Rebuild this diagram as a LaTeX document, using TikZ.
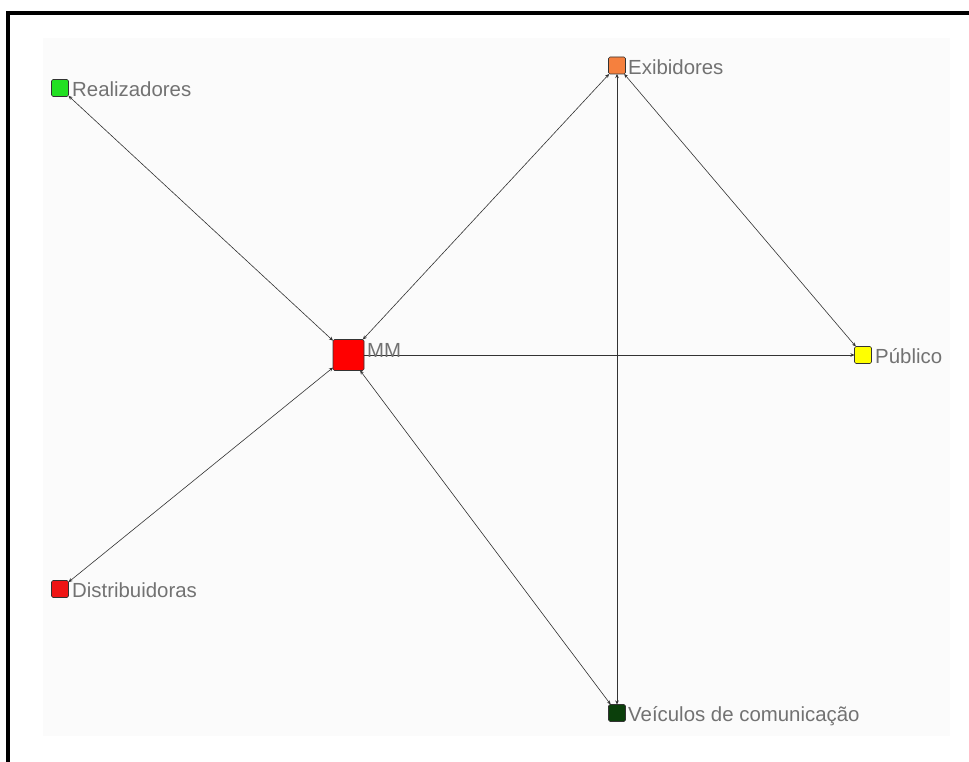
\documentclass[tikz,border=0pt]{standalone}
\usepackage{fontspec}
\setmainfont{Liberation Sans}
\usetikzlibrary{arrows.meta}
\definecolor{txtgray}{HTML}{727272}
\definecolor{panel}{HTML}{FBFBFB}
\definecolor{cGreen}{HTML}{22E022}
\definecolor{cOrange}{HTML}{F5803E}
\definecolor{cRed}{HTML}{FF0000}
\definecolor{cRedB}{HTML}{EE1515}
\definecolor{cYellow}{HTML}{FFFF00}
\definecolor{cDark}{HTML}{0B3F0B}
\tikzset{
  vbox/.style={draw=black!80, line width=0.6pt, rounded corners=1.5pt, minimum size=17pt, inner sep=0pt, outer sep=0pt},
  bigbox/.style={vbox, minimum size=31pt},
  vlabel/.style={anchor=base west, inner sep=0pt, text=txtgray, font=\fontsize{20.4}{24}\selectfont},
  edge/.style={draw=black!80, line width=0.6pt},
  both/.style={edge, {Stealth[length=4pt,width=3.5pt]}-{Stealth[length=4pt,width=3.5pt]}},
  one/.style={edge, -{Stealth[length=4pt,width=3.5pt]}}
}
\begin{document}
\begin{tikzpicture}[x=1pt,y=-1pt]
\useasboundingbox (0,0) rectangle (969,762);
\fill[panel] (43,38) rectangle (950,736);
\draw[line width=4pt] (6,13) -- (969,13);
\draw[line width=4pt] (8,11) -- (8,762);

\node[vbox, fill=cGreen] (real) at (60,88) {};
\node[vbox, fill=cOrange] (exib) at (617,65.5) {};
\node[bigbox, fill=cRed] (mm) at (348.5,355) {};
\node[vbox, fill=cYellow] (pub) at (863,355) {};
\node[vbox, fill=cRedB] (dist) at (60,589) {};
\node[vbox, fill=cDark] (veic) at (617,713) {};

\draw[both] (mm) -- (real);
\draw[both] (mm) -- (exib);
\draw[both] (exib) -- (veic);
\draw[both] (exib) -- (pub);
\draw[both] (dist) -- (mm);
\draw[both] (mm) -- (veic);
\draw[one] (mm) -- (pub);

\node[vlabel] (lreal) at (72,96.5) {Realizadores};
\node[vlabel] (lexib) at (628,74.5) {Exibidores};
\node[vlabel] (lmm) at (367,357) {MM};
\node[vlabel] (lpub) at (875,363.5) {Público};
\node[vlabel] (ldist) at (72,597.5) {Distribuidoras};
\node[vlabel] (lveic) at (628,721.5) {Veículos de comunicação};
\end{tikzpicture}
\end{document}
